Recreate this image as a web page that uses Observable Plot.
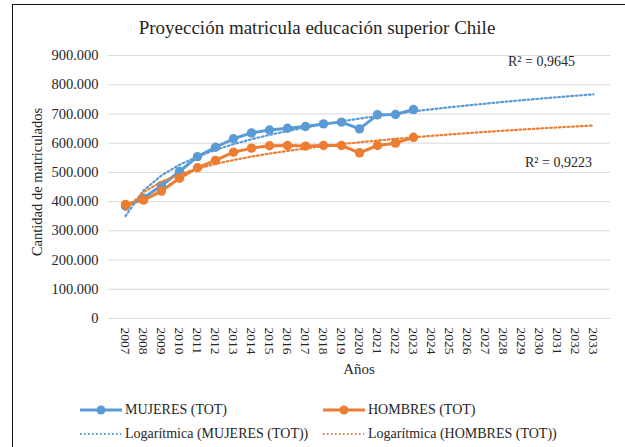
<!DOCTYPE html>
<html><head><meta charset="utf-8">
<script src="https://cdn.jsdelivr.net/npm/d3@7"></script>
<script src="https://cdn.jsdelivr.net/npm/@observablehq/plot@0.6"></script>
<style>
body{margin:0;background:#fff;}
#wrap{position:relative;width:625px;height:447px;overflow:hidden;font-family:"Liberation Serif",serif;color:#262626;}
#wrap *{font-family:"Liberation Serif",serif !important;}
#frame{position:absolute;left:12px;top:4px;width:612px;height:460px;border-left:1.5px solid #111;border-top:1.5px solid #111;}
#title{position:absolute;left:0;width:634px;top:16px;text-align:center;font-size:19px;line-height:24px;}
#chart{position:absolute;left:0;top:40px;}
#chart svg text{fill:#262626;}
.ann{position:absolute;font-size:14px;line-height:16px;white-space:nowrap;}
#ylab{position:absolute;left:37px;top:182px;transform:translate(-50%,-50%) rotate(-90deg);font-size:14.5px;white-space:nowrap;}
#xlab{position:absolute;left:359px;top:369px;transform:translate(-50%,-50%);font-size:15px;}
.leg{position:absolute;font-size:14px;line-height:16px;white-space:nowrap;display:flex;align-items:center;}
.leg svg{margin-right:3px;}
</style></head><body>
<div id="wrap">
  <div id="frame"></div>
  <div id="title">Proyección matricula educación superior Chile</div>
  <div id="chart"></div>
  <div id="ylab">Cantidad de matriculados</div>
  <div id="xlab">Años</div>
  <div class="ann" style="left:508px;top:54px;">R² = 0,9645</div>
  <div class="ann" style="left:525px;top:155px;">R² = 0,9223</div>
  <div id="legend"></div>
</div>
<script>
const years = [2007,2008,2009,2010,2011,2012,2013,2014,2015,2016,2017,2018,2019,2020,2021,2022,2023,2024,2025,2026,2027,2028,2029,2030,2031,2032,2033];
const dataYears = [2007,2008,2009,2010,2011,2012,2013,2014,2015,2016,2017,2018,2019,2020,2021,2022,2023];
const mujeres = [385000,412000,455000,503000,554000,586000,615000,635000,645000,651000,657000,666000,672000,649000,697000,698000,715000];
const hombres = [390000,405000,436000,480000,516000,541000,569000,583000,591000,592000,590000,592000,592000,567000,592000,600000,620000];
const yTicks = [0,100000,200000,300000,400000,500000,600000,700000,800000,900000];
const seriesNames = ["MUJERES (TOT)","HOMBRES (TOT)"];
const trendNames = ["Logarítmica (MUJERES (TOT))","Logarítmica (HOMBRES (TOT))"];
const colors = ["#5B9BD5","#ED7D31"];

// Excel-style logarithmic trendline: least squares of y on ln(index)
function logFit(vals){
  const n = vals.length;
  const lx = vals.map((_,i)=>Math.log(i+1));
  const mx = d3.mean(lx), my = d3.mean(vals);
  let sxy=0,sxx=0;
  for(let i=0;i<n;i++){sxy+=(lx[i]-mx)*(vals[i]-my);sxx+=(lx[i]-mx)**2;}
  const a=sxy/sxx, b=my-a*mx;
  return years.map((yr,i)=>({year:yr,value:a*Math.log(i+1)+b}));
}
const rows = [];
[mujeres,hombres].forEach((vals,s)=>vals.forEach((v,i)=>rows.push({year:dataYears[i],value:v,series:seriesNames[s]})));
const trends = [];
[mujeres,hombres].forEach((vals,s)=>logFit(vals).forEach(d=>trends.push({...d,series:trendNames[s]})));

const fmt = v => d3.format(",")(v).replace(/,/g,".");
const serif = '"Liberation Serif",serif';

const plot = Plot.plot({
  width:625, height:340,
  marginLeft:108, marginRight:15, marginTop:15, marginBottom:62,
  style:{fontFamily:serif,fontSize:"14.5px",color:"#262626",background:"transparent"},
  x:{type:"point",domain:years,padding:0.5,label:null},
  y:{domain:[0,900000],label:null},
  color:{domain:[...seriesNames,...trendNames],range:[...colors,...colors]},
  marks:[
    Plot.ruleY(yTicks,{y:d=>d,stroke:"#d9d9d9",strokeWidth:1}),
    Plot.axisY({ticks:yTicks,tickFormat:fmt,tickSize:0,tickPadding:10,label:null,fontSize:14.5,fontFamily:serif}),
    Plot.axisX({ticks:years,tickFormat:d=>String(d),tickSize:0,tickPadding:9,tickRotate:90,label:null,fontSize:13.5,fontFamily:serif}),
    Plot.line(rows,{x:"year",y:"value",z:"series",stroke:"series",strokeWidth:3}),
    Plot.dot(rows,{x:"year",y:"value",fill:"series",r:4.7}),
    Plot.line(trends,{x:"year",y:"value",z:"series",stroke:"series",strokeWidth:2.2,strokeDasharray:"1.8,2.6"})
  ]
});
document.getElementById("chart").appendChild(plot);

// legend
const legItems = [
  {name:seriesNames[0],color:colors[0],dotted:false,left:80,top:410},
  {name:seriesNames[1],color:colors[1],dotted:false,left:323,top:410},
  {name:trendNames[0],color:colors[0],dotted:true,left:80,top:434},
  {name:trendNames[1],color:colors[1],dotted:true,left:323,top:434}
];
const leg = document.getElementById("legend");
legItems.forEach(it=>{
  const d = document.createElement("div");
  d.className="leg";
  d.style.left=it.left+"px"; d.style.top=(it.top-8)+"px";
  const sw = it.dotted
    ? `<svg width="42" height="12"><line x1="0" y1="6" x2="41" y2="6" stroke="${it.color}" stroke-width="1.8" stroke-dasharray="1.6,2.4"/></svg>`
    : `<svg width="42" height="12"><line x1="0" y1="6" x2="42" y2="6" stroke="${it.color}" stroke-width="3"/><circle cx="21" cy="6" r="4.5" fill="${it.color}"/></svg>`;
  d.innerHTML = sw + `<span>${it.name}</span>`;
  leg.appendChild(d);
});
</script>
</body></html>
